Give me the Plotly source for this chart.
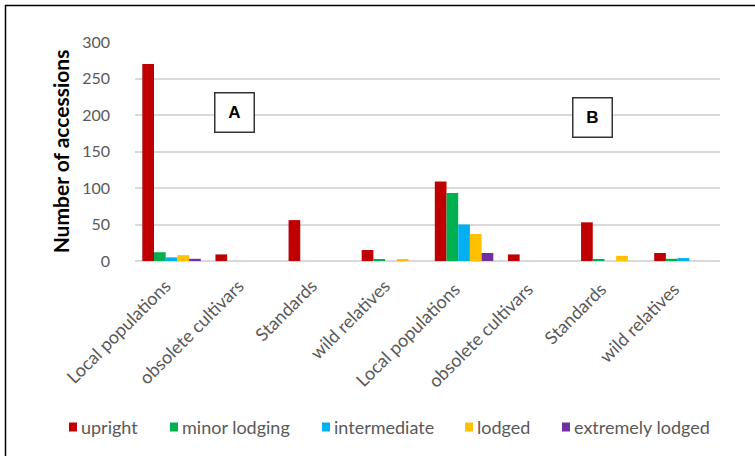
import plotly.graph_objects as go

categories = ["Local populations", "obsolete cultivars", "Standards", "wild relatives",
              "Local populations ", "obsolete cultivars ", "Standards ", "wild relatives "]
series_names = ["upright", "minor lodging", "intermediate", "lodged", "extremely lodged"]
upright = [270, 9, 56, 15, 109, 9, 53, 11]
minor_lodging = [12, 0, 0, 2, 93, 0, 2, 3]
intermediate = [5, 0, 0, 0, 50, 0, 0, 4]
lodged = [8, 0, 0, 2, 37, 0, 7, 0]
extremely_lodged = [3, 0, 0, 0, 11, 0, 0, 0]
colors = ["#C00000", "#00B050", "#00B0F0", "#FFC000", "#7030A0"]

W, H = 755, 456
L, R, T, B = 135, 35, 42, 195
FONT = "Lato"

fig = go.Figure()
for name, vals, c in zip(series_names,
                         [upright, minor_lodging, intermediate, lodged, extremely_lodged],
                         colors):
    fig.add_trace(go.Bar(name=name, x=categories, y=vals, marker_color=c,
                         marker_line_width=0, showlegend=False))

pw, ph = W - L - R, H - T - B
def px(x):
    return (x - L) / pw
def py(y):
    return (H - B - y) / ph

shapes = [
    dict(type="line", xref="paper", yref="paper", x0=px(5), x1=px(755), y0=py(5.5), y1=py(5.5),
         line=dict(color="black", width=1.5)),
    dict(type="line", xref="paper", yref="paper", x0=px(5.5), x1=px(5.5), y0=py(5), y1=py(456),
         line=dict(color="black", width=1.5)),
]

annotations = [
    dict(text="<b>A</b>", xref="paper", yref="paper", x=px(234), y=py(112), showarrow=False,
         font=dict(family="Arial", size=17, color="black"), bordercolor="#333333",
         borderwidth=1.5, width=36, height=36, bgcolor="white", xanchor="center", yanchor="middle"),
    dict(text="<b>B</b>", xref="paper", yref="paper", x=px(592), y=py(117), showarrow=False,
         font=dict(family="Arial", size=17, color="black"), bordercolor="#333333",
         borderwidth=1.5, width=36, height=36, bgcolor="white", xanchor="center", yanchor="middle"),
]

# custom legend (small squares + labels)
legend_x = [69, 170, 322, 465, 562]
ly = 427
for name, c, lx in zip(series_names, colors, legend_x):
    shapes.append(dict(type="rect", xref="paper", yref="paper", x0=px(lx), x1=px(lx + 8),
                       y0=py(ly + 4.5), y1=py(ly - 4.5), fillcolor=c, line=dict(width=0)))
    annotations.append(dict(text=name, xref="paper", yref="paper", x=px(lx + 10), y=py(ly),
                            xanchor="left", yanchor="middle", showarrow=False,
                            font=dict(size=18, color="#595959", family=FONT)))

fig.update_layout(
    width=W, height=H,
    margin=dict(l=L, r=R, t=T, b=B, autoexpand=False),
    barmode="group", bargap=0.2, bargroupgap=0,
    plot_bgcolor="white", paper_bgcolor="white",
    font=dict(family=FONT, color="#595959", size=13),
    showlegend=False,
    shapes=shapes, annotations=annotations,
    xaxis=dict(tickangle=-45, showgrid=False, showline=False, ticks="",
               tickfont=dict(size=18, color="#595959"), ticklabelstandoff=10,
               ticklabelshift=-6),
    yaxis=dict(range=[0, 300], dtick=50, showgrid=True, gridcolor="#D9D9D9", gridwidth=1.5,
               zeroline=True, zerolinecolor="#D9D9D9", zerolinewidth=1.5,
               tickfont=dict(size=16, color="#595959"), ticklabelstandoff=24,
               title=dict(text="<b>Number of accessions</b>", standoff=6,
                          font=dict(size=21, color="black", family=FONT))),
)

fig.write_html("out.html")
